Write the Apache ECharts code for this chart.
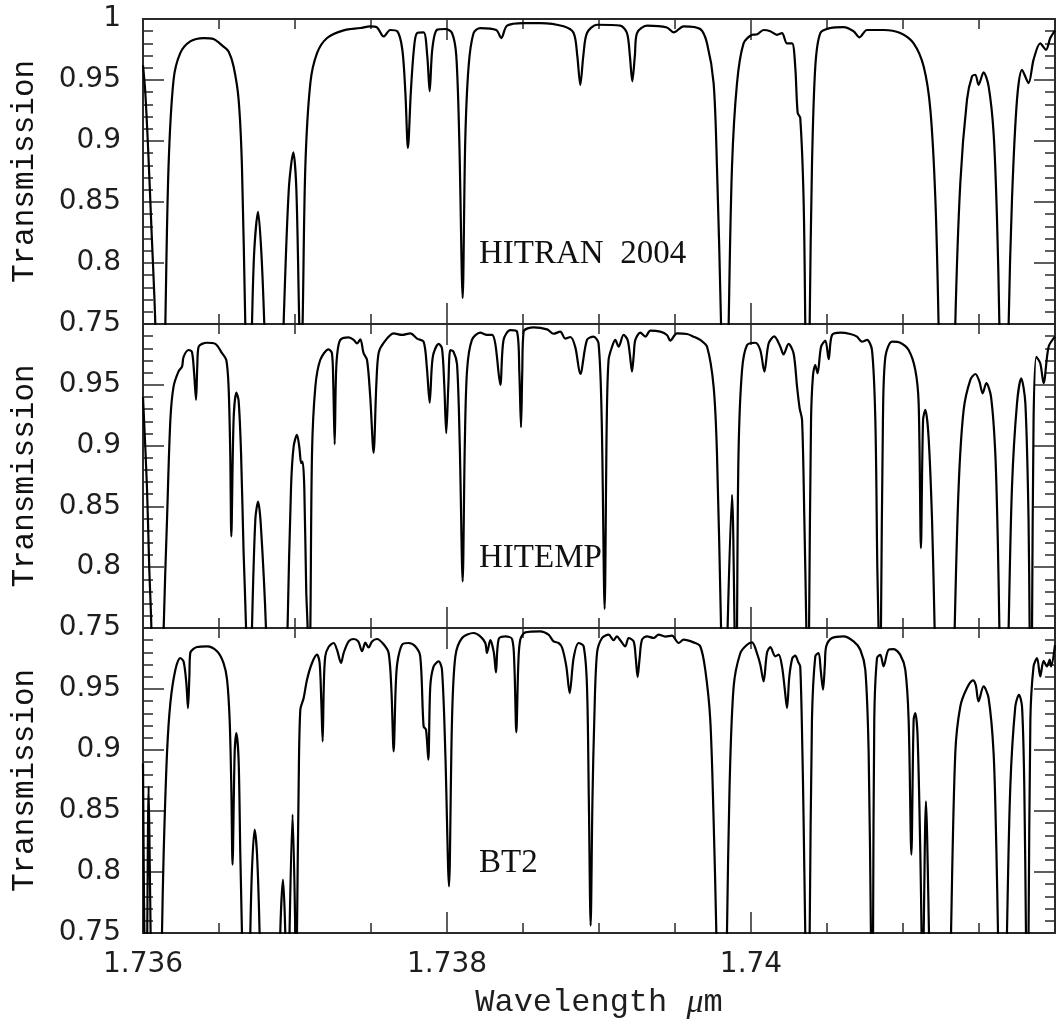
<!DOCTYPE html>
<html>
<head>
<meta charset="utf-8">
<title>Telluric transmission: HITRAN 2004, HITEMP, BT2</title>
<script src="https://cdn.jsdelivr.net/npm/echarts@6/dist/echarts.min.js"></script>
<style>
  html, body { margin: 0; padding: 0; background: #ffffff; }
  #chart { width: 1061px; height: 1029px; }
</style>
</head>
<body>
<div id="chart"></div>
<script>
// Transmission spectra, [wavelength in micron, transmission]
const hitran2004 = [
  [1.736000,0.962],[1.736015,0.94],[1.736035,0.89],[1.736055,0.83],[1.736081,0.75],[1.736094,0.65],[1.736134,0.65],
  [1.736147,0.75],[1.736168,0.879],[1.736201,0.950],[1.736245,0.972],[1.736311,0.9816],[1.736399,0.9844],[1.736464,0.9836],
  [1.736528,0.9775],[1.736563,0.9734],[1.736596,0.961],[1.736629,0.934],[1.736651,0.879],[1.736673,0.75],[1.736683,0.70],
  [1.736709,0.70],[1.736717,0.75],[1.736732,0.81],[1.736757,0.842],[1.736778,0.81],[1.736798,0.75],[1.736808,0.70],
  [1.736916,0.70],[1.736925,0.75],[1.736959,0.86],[1.736989,0.8907],[1.737009,0.86],[1.737028,0.75],[1.737038,0.70],
  [1.737050,0.75],[1.737068,0.879],[1.737101,0.9475],[1.737145,0.972],[1.737211,0.9844],[1.737320,0.9907],[1.737430,0.9926],
  [1.737495,0.994],[1.737541,0.993],[1.737583,0.9857],[1.737627,0.991],[1.737673,0.990],[1.737706,0.975],[1.737726,0.94],
  [1.737743,0.8943],[1.737762,0.94],[1.737782,0.975],[1.737803,0.9885],[1.737846,0.989],[1.737870,0.97],[1.737886,0.9407],
  [1.737903,0.975],[1.737934,0.9912],[1.737989,0.9918],[1.738033,0.9885],[1.738061,0.97],[1.738081,0.90],[1.738103,0.7713],
  [1.738120,0.90],[1.738142,0.961],[1.738175,0.9885],[1.738219,0.9926],[1.738324,0.991],[1.738357,0.9844],[1.738395,0.9945],
  [1.738504,0.9967],[1.738614,0.9967],[1.738767,0.994],[1.738833,0.9885],[1.738857,0.97],[1.738877,0.946],[1.738897,0.97],
  [1.738921,0.9885],[1.738987,0.9953],[1.739140,0.9945],[1.739184,0.9885],[1.739203,0.97],[1.739219,0.9489],[1.739236,0.97],
  [1.739250,0.9885],[1.739316,0.9945],[1.739447,0.993],[1.739491,0.989],[1.739557,0.994],[1.739666,0.9918],[1.739711,0.980],
  [1.739754,0.9475],[1.739776,0.879],[1.739803,0.75],[1.739814,0.65],[1.739841,0.65],[1.739853,0.75],[1.739875,0.879],
  [1.739908,0.9475],[1.739951,0.980],[1.740007,0.987],[1.740041,0.9875],[1.740083,0.991],[1.740127,0.990],[1.740171,0.987],
  [1.740204,0.9885],[1.740237,0.980],[1.740270,0.980],[1.740291,0.961],[1.740307,0.923],[1.740324,0.919],[1.740346,0.852],
  [1.740357,0.75],[1.740364,0.65],[1.740379,0.65],[1.740386,0.75],[1.740401,0.879],[1.740423,0.961],[1.740456,0.9885],
  [1.740522,0.9926],[1.740609,0.9934],[1.740675,0.990],[1.740714,0.985],[1.740763,0.991],[1.740872,0.991],[1.740982,0.9885],
  [1.741070,0.980],[1.741136,0.961],[1.741180,0.9257],[1.741213,0.852],[1.741234,0.75],[1.741245,0.65],[1.741334,0.65],
  [1.741344,0.75],[1.741377,0.8656],[1.741421,0.9339],[1.741454,0.953],[1.741476,0.9543],[1.741497,0.946],[1.741530,0.9563],
  [1.741563,0.945],[1.741596,0.9066],[1.741618,0.838],[1.741634,0.75],[1.741643,0.65],[1.741686,0.65],[1.741695,0.75],
  [1.741717,0.852],[1.741750,0.9339],[1.741783,0.9584],[1.741826,0.9475],[1.741859,0.9667],[1.741903,0.980],[1.741941,0.9748],
  [1.741969,0.9844],[1.742000,0.9905]
];

const hitemp = [
  [1.736000,0.940],[1.736026,0.866],[1.736041,0.80],[1.736055,0.75],[1.736064,0.65],[1.736124,0.65],[1.736136,0.75],
  [1.736158,0.839],[1.736180,0.921],[1.736201,0.9485],[1.736234,0.961],[1.736257,0.965],[1.736267,0.973],[1.736300,0.9786],
  [1.736322,0.977],[1.736336,0.96],[1.736349,0.9376],[1.736357,0.965],[1.736366,0.9813],[1.736421,0.9846],[1.736476,0.9836],
  [1.736520,0.976],[1.736548,0.9704],[1.736563,0.9485],[1.736574,0.894],[1.736581,0.8253],[1.736596,0.921],[1.736614,0.9436],
  [1.736629,0.937],[1.736645,0.894],[1.736662,0.8115],[1.736678,0.75],[1.736686,0.68],[1.736709,0.68],[1.736717,0.75],
  [1.736739,0.839],[1.736757,0.854],[1.736775,0.835],[1.736809,0.75],[1.736818,0.68],[1.736943,0.68],[1.736951,0.75],
  [1.736974,0.866],[1.736991,0.8992],[1.737013,0.9088],[1.737028,0.8992],[1.737041,0.8855],[1.737050,0.8869],[1.737061,0.866],
  [1.737074,0.78],[1.737083,0.75],[1.737091,0.68],[1.737094,0.68],[1.737101,0.75],[1.737112,0.894],[1.737134,0.9485],
  [1.737166,0.9704],[1.737221,0.9792],[1.737243,0.976],[1.737252,0.95],[1.737261,0.901],[1.737268,0.95],[1.737276,0.973],
  [1.737298,0.9869],[1.737353,0.989],[1.737386,0.987],[1.737408,0.984],[1.737430,0.9874],[1.737451,0.976],[1.737474,0.9704],
  [1.737495,0.94],[1.737517,0.894],[1.737535,0.95],[1.737550,0.976],[1.737583,0.9845],[1.737649,0.9923],[1.737704,0.9910],
  [1.737759,0.9923],[1.737803,0.988],[1.737846,0.9855],[1.737867,0.965],[1.737886,0.9353],[1.737900,0.965],[1.737912,0.976],
  [1.737945,0.9836],[1.737967,0.980],[1.737982,0.95],[1.737995,0.9102],[1.738009,0.95],[1.738022,0.9786],[1.738043,0.9772],
  [1.738066,0.967],[1.738084,0.90],[1.738103,0.7883],[1.738117,0.90],[1.738132,0.962],[1.738164,0.9869],[1.738219,0.9929],
  [1.738263,0.991],[1.738296,0.991],[1.738318,0.9836],[1.738351,0.950],[1.738372,0.9869],[1.738416,0.995],[1.738461,0.9937],
  [1.738476,0.96],[1.738487,0.9151],[1.738495,0.96],[1.738504,0.9937],[1.738570,0.9973],[1.738658,0.9956],[1.738701,0.992],
  [1.738745,0.9937],[1.738778,0.988],[1.738811,0.9893],[1.738844,0.9810],[1.738877,0.9589],[1.738921,0.9869],[1.738964,0.9896],
  [1.738997,0.984],[1.739018,0.92],[1.739037,0.7656],[1.739051,0.92],[1.739063,0.9704],[1.739086,0.9813],[1.739107,0.9869],
  [1.739129,0.9813],[1.739162,0.991],[1.739188,0.9869],[1.739203,0.975],[1.739217,0.9608],[1.739229,0.975],[1.739239,0.9869],
  [1.739272,0.9929],[1.739305,0.9896],[1.739338,0.9945],[1.739403,0.9937],[1.739447,0.991],[1.739469,0.9863],[1.739513,0.9923],
  [1.739579,0.9918],[1.739622,0.9896],[1.739666,0.9869],[1.739711,0.9813],[1.739754,0.9485],[1.739776,0.894],[1.739803,0.75],
  [1.739814,0.68],[1.739838,0.68],[1.739846,0.75],[1.739875,0.8595],[1.739892,0.75],[1.739899,0.68],[1.739904,0.68],
  [1.739908,0.75],[1.739918,0.894],[1.739941,0.962],[1.739974,0.9827],[1.740028,0.9846],[1.740061,0.9786],[1.740088,0.9608],
  [1.740116,0.984],[1.740153,0.9898],[1.740193,0.9813],[1.740214,0.975],[1.740247,0.9836],[1.740280,0.976],[1.740303,0.9485],
  [1.740320,0.9307],[1.740336,0.921],[1.740351,0.839],[1.740364,0.75],[1.740370,0.68],[1.740377,0.68],[1.740382,0.75],
  [1.740395,0.921],[1.740408,0.958],[1.740423,0.9663],[1.740438,0.9595],[1.740461,0.9813],[1.740489,0.9863],[1.740511,0.971],
  [1.740533,0.991],[1.740588,0.9929],[1.740653,0.9918],[1.740697,0.9896],[1.740730,0.9855],[1.740763,0.9869],[1.740796,0.9786],
  [1.740818,0.921],[1.740831,0.80],[1.740839,0.75],[1.740847,0.68],[1.740855,0.75],[1.740868,0.921],[1.740884,0.973],
  [1.740928,0.9855],[1.740982,0.9846],[1.741037,0.9786],[1.741081,0.9622],[1.741103,0.9348],[1.741118,0.8157],[1.741132,0.921],
  [1.741147,0.9293],[1.741168,0.9074],[1.741191,0.839],[1.741208,0.75],[1.741219,0.68],[1.741331,0.68],[1.741340,0.75],
  [1.741366,0.866],[1.741399,0.9293],[1.741443,0.954],[1.741476,0.9589],[1.741502,0.953],[1.741524,0.943],[1.741548,0.9513],
  [1.741579,0.9403],[1.741607,0.894],[1.741624,0.82],[1.741634,0.75],[1.741643,0.68],[1.741686,0.68],[1.741695,0.75],
  [1.741717,0.866],[1.741750,0.9348],[1.741778,0.9554],[1.741805,0.9348],[1.741826,0.839],[1.741833,0.75],[1.741841,0.68],
  [1.741849,0.75],[1.741859,0.921],[1.741877,0.973],[1.741903,0.9677],[1.741925,0.9513],[1.741958,0.9813],[1.742000,0.9896]
];

const bt2 = [
  [1.736000,0.889],[1.736005,0.80],[1.736009,0.75],[1.736014,0.68],[1.736025,0.68],[1.736028,0.75],[1.736037,0.870],
  [1.736045,0.80],[1.736050,0.75],[1.736055,0.68],[1.736117,0.68],[1.736125,0.75],[1.736136,0.8156],[1.736158,0.8975],
  [1.736180,0.9385],[1.736213,0.9658],[1.736245,0.9754],[1.736267,0.9726],[1.736285,0.955],[1.736296,0.9344],[1.736305,0.96],
  [1.736311,0.9795],[1.736355,0.9844],[1.736421,0.985],[1.736487,0.981],[1.736530,0.9713],[1.736553,0.9576],[1.736570,0.9248],
  [1.736581,0.870],[1.736589,0.806],[1.736603,0.8975],[1.736614,0.9139],[1.736629,0.892],[1.736640,0.8156],[1.736651,0.75],
  [1.736660,0.68],[1.736699,0.68],[1.736706,0.75],[1.736717,0.802],[1.736734,0.8347],[1.736750,0.815],[1.736767,0.75],
  [1.736775,0.68],[1.736897,0.68],[1.736903,0.75],[1.736921,0.7937],[1.736936,0.75],[1.736943,0.68],[1.736959,0.68],
  [1.736964,0.75],[1.736984,0.847],[1.737002,0.75],[1.737007,0.68],[1.737013,0.75],[1.737024,0.870],[1.737035,0.933],
  [1.737057,0.9426],[1.737079,0.9576],[1.737112,0.9713],[1.737145,0.9781],[1.737162,0.9713],[1.737173,0.94],[1.737182,0.907],
  [1.737189,0.95],[1.737199,0.9768],[1.737221,0.9844],[1.737254,0.9877],[1.737276,0.9822],[1.737303,0.9713],[1.737320,0.9795],
  [1.737353,0.989],[1.737386,0.991],[1.737416,0.989],[1.737441,0.981],[1.737463,0.988],[1.737484,0.984],[1.737507,0.989],
  [1.737539,0.991],[1.737583,0.9867],[1.737616,0.9795],[1.737634,0.95],[1.737649,0.8989],[1.737662,0.95],[1.737673,0.9713],
  [1.737704,0.9863],[1.737747,0.9877],[1.737791,0.985],[1.737824,0.9768],[1.737846,0.9193],[1.737862,0.9166],[1.737877,0.892],
  [1.737890,0.952],[1.737912,0.9685],[1.737945,0.9726],[1.737967,0.9658],[1.737989,0.8975],[1.738013,0.7882],[1.738033,0.9248],
  [1.738055,0.9768],[1.738099,0.9918],[1.738175,0.9959],[1.738219,0.9932],[1.738252,0.9877],[1.738263,0.9795],[1.738285,0.990],
  [1.738308,0.98],[1.738322,0.9636],[1.738340,0.991],[1.738384,0.9932],[1.738428,0.991],[1.738443,0.97],[1.738456,0.9145],
  [1.738469,0.97],[1.738482,0.9904],[1.738515,0.9964],[1.738614,0.9973],[1.738668,0.9945],[1.738701,0.989],[1.738734,0.9877],
  [1.738757,0.984],[1.738785,0.9685],[1.738807,0.9467],[1.738833,0.9754],[1.738866,0.9877],[1.738899,0.9850],[1.738921,0.9521],
  [1.738933,0.86],[1.738945,0.756],[1.738957,0.86],[1.738969,0.9248],[1.738987,0.9795],[1.739020,0.9918],[1.739063,0.9945],
  [1.739096,0.990],[1.739118,0.9932],[1.739140,0.990],[1.739173,0.985],[1.739195,0.9918],[1.739228,0.989],[1.739242,0.975],
  [1.739254,0.9598],[1.739267,0.975],[1.739283,0.9904],[1.739316,0.9932],[1.739359,0.9918],[1.739392,0.9945],[1.739436,0.993],
  [1.739480,0.9937],[1.739524,0.9877],[1.739557,0.9904],[1.739622,0.9882],[1.739666,0.985],[1.739699,0.9658],[1.739732,0.9248],
  [1.739754,0.8429],[1.739772,0.75],[1.739782,0.68],[1.739834,0.68],[1.739842,0.75],[1.739859,0.870],[1.739886,0.9521],
  [1.739930,0.9795],[1.739974,0.9863],[1.740007,0.9882],[1.740039,0.9795],[1.740061,0.97],[1.740083,0.9562],[1.740105,0.9795],
  [1.740127,0.9844],[1.740160,0.9768],[1.740182,0.9781],[1.740204,0.9685],[1.740222,0.95],[1.740237,0.9344],[1.740252,0.96],
  [1.740272,0.9753],[1.740291,0.9773],[1.740311,0.972],[1.740324,0.9685],[1.740338,0.90],[1.740346,0.8429],[1.740357,0.75],
  [1.740367,0.68],[1.740377,0.68],[1.740386,0.75],[1.740401,0.9248],[1.740423,0.9768],[1.740445,0.9795],[1.740459,0.965],
  [1.740474,0.9494],[1.740486,0.97],[1.740495,0.985],[1.740533,0.9918],[1.740609,0.9932],[1.740675,0.9891],[1.740719,0.9822],
  [1.740752,0.9658],[1.740774,0.8975],[1.740789,0.75],[1.740796,0.68],[1.740803,0.75],[1.740811,0.9248],[1.740829,0.9754],
  [1.740851,0.978],[1.740872,0.9685],[1.740905,0.9822],[1.740938,0.9827],[1.740982,0.978],[1.741015,0.9658],[1.741037,0.9248],
  [1.741055,0.8142],[1.741070,0.9248],[1.741081,0.9303],[1.741096,0.9112],[1.741114,0.8156],[1.741122,0.75],[1.741129,0.68],
  [1.741136,0.75],[1.741151,0.8579],[1.741171,0.75],[1.741180,0.68],[1.741308,0.68],[1.741316,0.75],[1.741344,0.8975],
  [1.741377,0.9357],[1.741421,0.9508],[1.741461,0.957],[1.741479,0.953],[1.741497,0.9398],[1.741530,0.9521],[1.741563,0.9426],
  [1.741596,0.8975],[1.741614,0.82],[1.741625,0.75],[1.741634,0.68],[1.741676,0.68],[1.741684,0.75],[1.741706,0.870],
  [1.741739,0.9357],[1.741763,0.9453],[1.741783,0.9357],[1.741798,0.870],[1.741809,0.75],[1.741816,0.68],[1.741826,0.75],
  [1.741838,0.9248],[1.741859,0.9685],[1.741882,0.9754],[1.741903,0.9603],[1.741925,0.973],[1.741947,0.9685],[1.741965,0.974],
  [1.741974,0.9685],[1.742000,0.986]
];

const panelNames = ['HITRAN  2004', 'HITEMP', 'BT2'];
const panelSeries = [hitran2004, hitemp, bt2];

// Axis ranges and tick steps
const waveRange = [1.736, 1.742];
const waveStep = 0.002;
const transRange = [0.75, 1];
const transStep = 0.05;

const frameColor = '#2a2a2a';
const labelColor = '#1e1e1e';

// Three stacked panels sharing the wavelength axis
const panelBoxes = [
  { top: 19, height: 305 },
  { top: 324, height: 304 },
  { top: 628, height: 305 }
];
const plotLeft = 143;
const plotWidth = 912;

const grids = [], xAxes = [], yAxes = [], series = [], texts = [];
const tickLine = { color: frameColor, width: 1.5 };
const frameLine = { color: frameColor, width: 2 };

panelBoxes.forEach(function (box, i) {
  grids.push({ left: plotLeft, top: box.top, width: plotWidth, height: box.height, outerBoundsMode: 'none', containLabel: false });
  const isLast = i === panelBoxes.length - 1;
  ['bottom', 'top'].forEach(function (pos) {
    xAxes.push({
      gridIndex: i, type: 'value', position: pos,
      min: waveRange[0], max: waveRange[1], interval: waveStep,
      axisLine: { show: true, onZero: false, lineStyle: frameLine },
      axisTick: { show: true, inside: true, length: 21, lineStyle: tickLine },
      minorTick: { show: true, splitNumber: 4, length: 10, lineStyle: tickLine },
      splitLine: { show: false }, minorSplitLine: { show: false },
      axisLabel: (isLast && pos === 'bottom') ? {
        show: true, showMaxLabel: false, margin: 18,
        fontFamily: 'DejaVu Sans', fontSize: 28, color: labelColor
      } : { show: false },
      name: (isLast && pos === 'bottom') ? '{t|Wavelength }{u|\u03bc}{t|m}' : '',
      nameLocation: 'middle', nameGap: 53,
      nameTextStyle: {
        rich: {
          t: { fontFamily: 'Liberation Mono', fontSize: 32, color: labelColor },
          u: { fontFamily: 'Liberation Serif', fontStyle: 'italic', fontSize: 34, color: labelColor }
        }
      }
    });
  });
  ['left', 'right'].forEach(function (pos) {
    yAxes.push({
      gridIndex: i, type: 'value', position: pos,
      min: transRange[0], max: transRange[1], interval: transStep,
      axisLine: { show: true, onZero: false, lineStyle: frameLine },
      axisTick: { show: true, inside: true, length: 21, lineStyle: tickLine },
      minorTick: { show: true, splitNumber: 5, length: 10, lineStyle: tickLine },
      splitLine: { show: false }, minorSplitLine: { show: false },
      axisLabel: pos === 'left' ? {
        show: true, showMaxLabel: i === 0, margin: 22,
        fontFamily: 'DejaVu Sans', fontSize: 28, color: labelColor
      } : { show: false },
      name: pos === 'left' ? 'Transmission' : '',
      nameLocation: 'middle', nameGap: 103,
      nameTextStyle: { fontFamily: 'Liberation Mono', fontSize: 31, color: '#111111' }
    });
  });
  series.push({
    type: 'line', xAxisIndex: i * 2, yAxisIndex: i * 2,
    data: panelSeries[i], showSymbol: false, clip: true,
    smooth: 0.3,
    lineStyle: { color: '#000000', width: 2.2 },
    silent: true
  });
});

// Panel titles, placed inside each plot box
const titleCenters = [254, 558, 863];
panelNames.forEach(function (name, i) {
  texts.push({
    type: 'text', x: 479, y: titleCenters[i], silent: true,
    style: {
      text: name, fill: '#111111',
      font: '33px "Liberation Serif"',
      verticalAlign: 'middle', align: 'left'
    }
  });
});

const chart = echarts.init(document.getElementById('chart'), null, { renderer: 'canvas' });
chart.setOption({
  backgroundColor: '#ffffff',
  animation: false,
  grid: grids,
  xAxis: xAxes,
  yAxis: yAxes,
  series: series,
  graphic: texts
});
</script>
</body>
</html>
